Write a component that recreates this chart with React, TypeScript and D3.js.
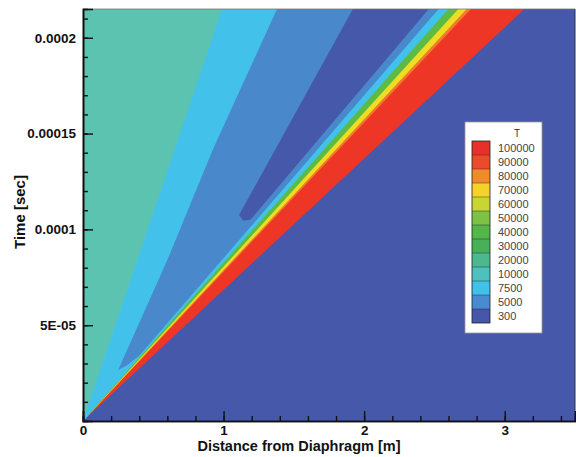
import React, { useEffect, useRef } from 'react'
import * as d3 from 'd3'

// axis data
const xDomain = [0, 3.5]
const tDomain = [0, 0.000215]
const xTicks = [0, 1, 2, 3]
const xMinorTicks = d3.range(0, 3.51, 0.2)
const tTicks = [0.00005, 0.0001, 0.00015, 0.0002]
const tTickLabels = ['5E-05', '0.0001', '0.00015', '0.0002']
const tMinorTicks = d3.range(0.00001, 0.000215, 0.00001)

// contour legend
const legendLevels = ['100000', '90000', '80000', '70000', '60000', '50000', '40000', '30000', '20000', '10000', '7500', '5000', '300']
const legendColors = ['#e8302a', '#ec4a2c', '#f08a2a', '#f3d22a', '#c9d532', '#7dc244', '#52b648', '#48b157', '#4db88f', '#4fc0c0', '#3fc1ea', '#4a8ad0', '#4656a8']

// shock band: rays from the origin, x reached at the top time (m), painted right to left
const bandRayX = [3.14, 2.76, 2.73, 2.67, 2.6]
const bandRayColor = ['#ee3626', '#f07a2a', '#eedd22', '#5dbb45', '#42c2ea']

// regions, [x (m), t (s)]
const region5000 = [[0.25, 2.66e-5], [0.6, 8.4e-5], [0.92, 1.41e-4], [1.38, 2.15e-4], [2.53, 2.15e-4], [1.177, 1.0e-4], [0.4, 3.4e-5], [0.31, 2.9e-5]]
const regionCold = [[1.11, 1.075e-4], [1.92, 2.15e-4], [2.46, 2.15e-4], [1.22, 1.075e-4], [1.19, 1.05e-4], [1.14, 1.045e-4]]
const regionDriver = [[0, 0], [0, 2.15e-4], [0.99, 2.15e-4]]

const App = () => {
    const ref = useRef<SVGSVGElement>(null)

    useEffect(() => {
        drawChart()
    }, [])

    const drawChart = () => {
        const svg = d3.select(ref.current)
        svg.selectAll('*').remove()
        const left = 83, right = 575, top = 9, bottom = 421

        const xScale = d3.scaleLinear().domain(xDomain).range([left, right])
        const yScale = d3.scaleLinear().domain(tDomain).range([bottom, top])
        const line = d3.line<number[]>().x(d => xScale(d[0])).y(d => yScale(d[1]))

        svg.append('clipPath').attr('id', 'plotclip')
            .append('rect')
            .attr('x', left).attr('y', top)
            .attr('width', right - left).attr('height', bottom - top)

        const plot = svg.append('g').attr('clip-path', 'url(#plotclip)')

        plot.append('rect')
            .attr('x', left).attr('y', top)
            .attr('width', right - left).attr('height', bottom - top)
            .attr('fill', '#4658aa')

        const tTop = tDomain[1]
        bandRayX.forEach((rx, i) => {
            plot.append('path')
                .attr('d', line([[0, 0], [0, tTop], [rx, tTop]]) + 'Z')
                .attr('fill', bandRayColor[i])
        })

        plot.append('path').attr('d', line(region5000) + 'Z').attr('fill', '#4a88cc')
        plot.append('path').attr('d', line(regionCold) + 'Z').attr('fill', '#4658aa')
        plot.append('path').attr('d', line(regionDriver) + 'Z').attr('fill', '#5cc3b0')

        // frame
        svg.append('line').attr('x1', left).attr('x2', right).attr('y1', top).attr('y2', top)
            .attr('stroke', '#777').attr('stroke-width', 0.8)
        svg.append('line').attr('x1', right).attr('x2', right).attr('y1', top).attr('y2', bottom)
            .attr('stroke', '#333').attr('stroke-width', 1)

        const xAxis = d3.axisBottom(xScale).tickValues(xTicks).tickSize(-10).tickPadding(4).tickFormat(d3.format('d'))
        const xMinor = d3.axisBottom(xScale).tickValues(xMinorTicks).tickSize(-5).tickFormat(() => '')
        const yAxis = d3.axisLeft(yScale).tickValues(tTicks).tickSize(-10).tickPadding(7)
            .tickFormat((d, i) => tTickLabels[i])
        const yMinor = d3.axisLeft(yScale).tickValues(tMinorTicks).tickSize(-5).tickFormat(() => '')

        const styleAxis = g => {
            g.select('.domain').attr('stroke', '#111').attr('stroke-width', 1.6)
            g.selectAll('.tick line').attr('stroke', '#111').attr('stroke-width', 1.4)
            g.selectAll('.tick text').attr('fill', '#111')
                .style('font-family', '"Liberation Sans", Arial, sans-serif')
                .style('font-size', '13.5px').style('font-weight', 'bold')
        }

        svg.append('g').attr('transform', `translate(0, ${bottom})`).call(xMinor).call(styleAxis)
        svg.append('g').attr('transform', `translate(0, ${bottom})`).call(xAxis).call(styleAxis)
        svg.append('g').attr('transform', `translate(${left}, 0)`).call(yMinor).call(styleAxis)
        svg.append('g').attr('transform', `translate(${left}, 0)`).call(yAxis).call(styleAxis)

        svg.append('text')
            .attr('x', 299).attr('y', 451)
            .attr('text-anchor', 'middle')
            .style('font-family', '"Liberation Sans", Arial, sans-serif')
            .style('font-size', '14.5px').style('font-weight', 'bold')
            .attr('fill', '#111')
            .text('Distance from Diaphragm [m]')

        svg.append('text')
            .attr('transform', 'translate(25, 212) rotate(-90)')
            .attr('text-anchor', 'middle')
            .style('font-family', '"Liberation Sans", Arial, sans-serif')
            .style('font-size', '15px').style('font-weight', 'bold')
            .attr('fill', '#111')
            .text('Time [sec]')

        // legend
        const lg = svg.append('g')
        lg.append('rect').attr('x', 465).attr('y', 122).attr('width', 77).attr('height', 211)
            .attr('fill', '#fff').attr('stroke', '#999').attr('stroke-width', 0.8)
        lg.append('text').attr('x', 517).attr('y', 137).attr('text-anchor', 'middle')
            .style('font-family', '"Liberation Sans", Arial, sans-serif').style('font-size', '10px')
            .attr('fill', '#333').text('T')

        const band = 14
        const legendY = d3.scaleBand().domain(legendLevels).range([141, 141 + band * legendLevels.length])
        lg.selectAll('rect.sw').data(legendLevels).enter().append('rect')
            .attr('class', 'sw')
            .attr('x', 472).attr('y', d => legendY(d))
            .attr('width', 18).attr('height', legendY.bandwidth())
            .attr('fill', (d, i) => legendColors[i])
        lg.selectAll('line.sep').data(legendLevels.slice(1)).enter().append('line')
            .attr('class', 'sep')
            .attr('x1', 472).attr('x2', 490)
            .attr('y1', d => legendY(d)).attr('y2', d => legendY(d))
            .attr('stroke', '#222').attr('stroke-width', 0.6).attr('opacity', 0.7)
        lg.append('rect').attr('x', 472).attr('y', 141).attr('width', 18).attr('height', band * legendLevels.length)
            .attr('fill', 'none').attr('stroke', '#222').attr('stroke-width', 0.8)
        lg.selectAll('text.lab').data(legendLevels).enter().append('text')
            .attr('class', 'lab')
            .attr('x', 498).attr('y', d => legendY(d) + band / 2 + 4)
            .style('font-family', '"Liberation Sans", Arial, sans-serif').style('font-size', '11px')
            .attr('fill', '#444')
            .text(d => d)
    }

    return (
        <div style={{ position: 'absolute', left: 0, top: 0 }}>
            <svg ref={ref} width={576} height={457} style={{ display: 'block', background: '#fff' }} />
        </div>
    )
}

export default App
